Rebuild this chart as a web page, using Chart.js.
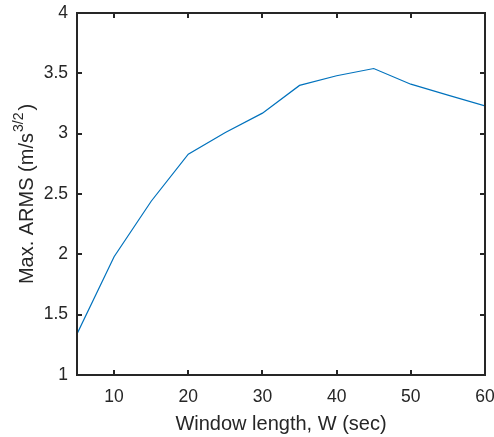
<!DOCTYPE html>
<html>
<head>
<meta charset="utf-8">
<script src="https://cdn.jsdelivr.net/npm/chart.js@4/dist/chart.umd.min.js"></script>
<style>
  html, body { margin: 0; padding: 0; background: #fff; }
  #wrap { width: 494px; height: 437px; }
</style>
</head>
<body>
<div id="wrap"><canvas id="armsChart" width="494" height="437"></canvas></div>
<script>
// window length (sec) vs max ARMS
const windowLengths = [5, 10, 15, 20, 25, 30, 35, 40, 45, 50, 55, 60]
const maxArms = [1.34, 1.98, 2.44, 2.83, 3.01, 3.17, 3.40, 3.48, 3.54, 3.41, 3.32, 3.23]
const xTicks = [10, 20, 30, 40, 50, 60]
const yTicks = [1, 1.5, 2, 2.5, 3, 3.5, 4]

const AXIS_COLOR = "#262626"
const FONT = "'Liberation Sans', Arial, Helvetica, sans-serif"

// box round the plot with inward ticks on all four sides
const boxAxes = {
    id: "boxAxes",
    afterDraw(chart){
        const {ctx, chartArea: a, scales} = chart
        const tick = 5
        ctx.save()
        ctx.strokeStyle = AXIS_COLOR
        ctx.lineWidth = 2
        ctx.beginPath()
        for(const v of xTicks){
            const px = Math.round(scales.x.getPixelForValue(v))
            ctx.moveTo(px, a.bottom); ctx.lineTo(px, a.bottom - tick)
            ctx.moveTo(px, a.top); ctx.lineTo(px, a.top + tick)
        }
        for(const v of yTicks){
            const py = Math.round(scales.y.getPixelForValue(v))
            ctx.moveTo(a.left, py); ctx.lineTo(a.left + tick, py)
            ctx.moveTo(a.right, py); ctx.lineTo(a.right - tick, py)
        }
        ctx.stroke()
        ctx.strokeRect(a.left, a.top, a.right - a.left, a.bottom - a.top)
        ctx.restore()
    }
}

// y title needs a superscript, so it is drawn by hand
const yTitle = {
    id: "yTitle",
    afterDraw(chart){
        const {ctx, chartArea: a} = chart
        const main = "Max. ARMS (m/s"
        const sup = "3/2"
        const close = ")"
        ctx.save()
        ctx.fillStyle = AXIS_COLOR
        ctx.textBaseline = "alphabetic"
        ctx.textAlign = "left"
        ctx.font = `20px ${FONT}`
        const wMain = ctx.measureText(main).width
        const wClose = ctx.measureText(close).width
        ctx.font = `14px ${FONT}`
        const wSup = ctx.measureText(sup).width
        const total = wMain + 1 + wSup + 2 + wClose
        ctx.translate(33, (a.top + a.bottom) / 2)
        ctx.rotate(-Math.PI / 2)
        let x = -total / 2
        ctx.font = `20px ${FONT}`
        ctx.fillText(main, x, 0)
        x += wMain + 1
        ctx.font = `14px ${FONT}`
        ctx.fillText(sup, x, -10)
        x += wSup + 2
        ctx.font = `20px ${FONT}`
        ctx.fillText(close, x, 0)
        ctx.restore()
    }
}

const canvas = document.getElementById("armsChart")
const chart = new Chart(canvas, {
    type: "line",
    data: {
        datasets: [{
            data: windowLengths.map((w, i) => ({x: w, y: maxArms[i]})),
            borderColor: "#0072BD",
            borderWidth: 1.2,
            pointRadius: 0,
            tension: 0,
            fill: false
        }]
    },
    options: {
        responsive: false,
        animation: false,
        events: [],
        layout: { padding: { left: 0, top: 13, right: 9, bottom: 0 } },
        plugins: { legend: { display: false }, tooltip: { enabled: false } },
        scales: {
            x: {
                type: "linear",
                min: 5,
                max: 60,
                afterBuildTicks: s => { s.ticks = xTicks.map(v => ({value: v})) },
                afterFit: s => { s.height = 62; s.paddingLeft = 0; s.paddingRight = 0 },
                grid: { display: false, drawTicks: false },
                border: { display: false },
                ticks: { color: AXIS_COLOR, font: { family: FONT, size: 17.5 }, padding: 12, maxRotation: 0 },
                title: {
                    display: true,
                    text: "Window length, W (sec)",
                    color: AXIS_COLOR,
                    font: { family: FONT, size: 20 },
                    padding: { top: 0, bottom: 1 }
                }
            },
            y: {
                min: 1,
                max: 4,
                afterBuildTicks: s => { s.ticks = yTicks.map(v => ({value: v})) },
                afterFit: s => { s.width = 77; s.paddingTop = 0; s.paddingBottom = 0 },
                grid: { display: false, drawTicks: false },
                border: { display: false },
                ticks: {
                    color: AXIS_COLOR,
                    font: { family: FONT, size: 17.5 },
                    padding: 9,
                    callback: v => String(v)
                }
            }
        }
    },
    plugins: [boxAxes, yTitle]
})
</script>
</body>
</html>
